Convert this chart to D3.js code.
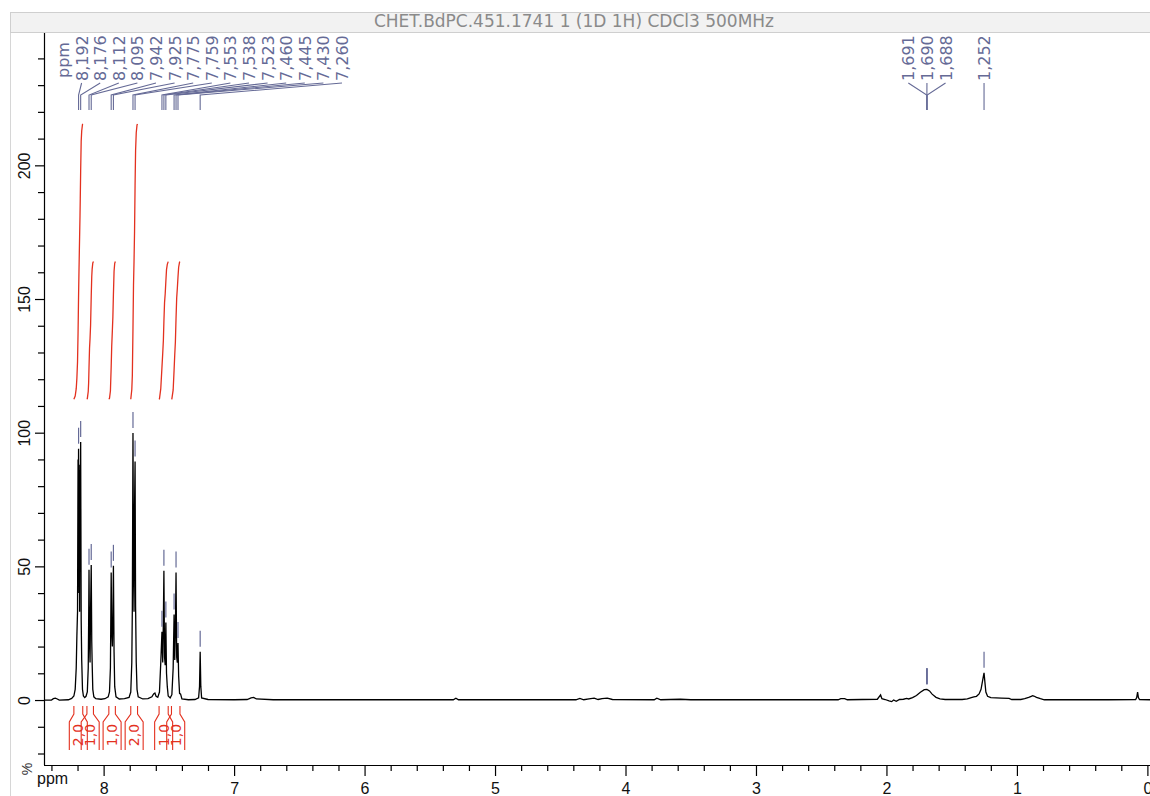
<!DOCTYPE html>
<html>
<head>
<meta charset="utf-8">
<script src="https://cdn.jsdelivr.net/npm/d3@7"></script>
<style>
  html, body { margin: 0; padding: 0; background: #fff; overflow: hidden; }
  svg { display: block; }
</style>
</head>
<body>
<svg id="chart" width="1150" height="796"></svg>
<script>
// ---- Data ----------------------------------------------------------------
const titleText = "CHET.BdPC.451.1741 1 (1D 1H) CDCl3 500MHz";

// 1H spectrum trace: chemical shift (ppm) and intensity (%)
const spectrumPpm = [
  8.46, 8.40, 8.385, 8.37, 8.355, 8.34, 8.27, 8.245, 8.228, 8.218, 8.210, 8.205, 8.200,
  8.196, 8.194, 8.192, 8.189, 8.186, 8.184, 8.181, 8.179, 8.176, 8.172, 8.168, 8.162,
  8.155, 8.145, 8.135, 8.125, 8.118, 8.115, 8.112, 8.108, 8.104, 8.100, 8.095, 8.091,
  8.088, 8.083, 8.075, 8.06, 8.02, 7.99, 7.965, 7.955, 7.948, 7.942, 7.938, 7.933,
  7.929, 7.925, 7.920, 7.915, 7.905, 7.88, 7.84, 7.805, 7.792, 7.784, 7.780, 7.775,
  7.771, 7.767, 7.763, 7.759, 7.755, 7.750, 7.744, 7.735, 7.70, 7.66, 7.63, 7.617,
  7.607, 7.598, 7.585, 7.572, 7.562, 7.553, 7.547, 7.542, 7.538, 7.533, 7.528, 7.523,
  7.518, 7.512, 7.505, 7.49, 7.477, 7.467, 7.460, 7.455, 7.450, 7.445, 7.440, 7.435,
  7.430, 7.425, 7.418, 7.410, 7.400, 7.35, 7.30, 7.272, 7.265, 7.260, 7.255, 7.249,
  7.20, 7.00, 6.90, 6.87, 6.85, 6.83, 6.70, 5.32, 5.30, 5.28, 4.38, 4.35, 4.32, 4.28,
  4.24, 4.21, 4.18, 4.14, 4.10, 3.78, 3.76, 3.73, 3.58, 3.50, 2.37, 2.35, 2.32, 2.30,
  2.07, 2.045, 2.035, 2.01, 1.98, 1.96, 1.945, 1.925, 1.90, 1.87, 1.845, 1.83, 1.80,
  1.77, 1.74, 1.71, 1.69, 1.67, 1.65, 1.62, 1.59, 1.55, 1.42, 1.38, 1.35, 1.33, 1.31,
  1.29, 1.275, 1.262, 1.252, 1.246, 1.238, 1.225, 1.20, 1.12, 1.06, 1.04, 0.97, 0.94,
  0.91, 0.89, 0.88, 0.87, 0.85, 0.82, 0.79, 0.30, 0.09, 0.082, 0.075, 0.069, 0.06, -0.03
];
const spectrumIntensity = [
  0, 0, 0.5, 0.7, 0.4, 0, 0.1, 0.6, 1.5, 4, 12, 24, 33,
  90, 72, 94, 40, 86, 33, 88, 62, 96.5, 30, 15, 4,
  1.5, 0.9, 1.4, 3, 12, 28, 48.7, 22, 14, 34, 50.5, 22,
  14, 4, 1.2, 0.5, 0.3, 0.5, 1.2, 3, 12, 47.7, 26, 20,
  30, 50.2, 18, 5, 1.2, 0.4, 0.5, 1.0, 3, 14, 34, 99.9,
  50, 33, 72, 89.2, 35, 14, 4, 1.2, 0.4, 0.5, 1.2, 2.3,
  2.6, 1.4, 1.0, 3, 14, 25.5, 14, 30, 48.4, 16, 13, 29,
  10, 5, 1.5, 0.8, 2, 12, 32, 15, 26, 47.7, 16, 14,
  21.3, 9, 2.5, 2.2, 0.4, 0.1, 0.2, 0.8, 5, 18.1, 5, 0.8,
  0.2, 0.1, 0.2, 0.8, 1.0, 0.4, 0.1, 0.1, 0.7, 0.1, 0.1, 0.6, 0.1, 0.4,
  0.7, 0.2, 0.5, 0.7, 0.2, 0.1, 0.7, 0.1, 0.3, 0.1, 0.1, 0.5, 0.5, 0.1,
  0.3, 1.9, 0.5, 0.2, -0.3, -0.6, 0, -0.5, 0.2, 0.3, 0.6, 0.4, 0.9,
  1.7, 2.9, 3.9, 4.0, 3.4, 2.2, 1.0, 0.4, 0.2, 0.2, 0.4, 0.9, 1.2, 1.4,
  2.3, 4, 7.5, 10.2, 7, 3, 1.4, 0.9, 0.7, 0.6, 0.2, 0.2, 0.5,
  1.0, 1.4, 1.6, 1.5, 1.0, 0.5, 0.1, 0.1, 0.2, 0.9, 3.0, 0.9, 0.2, 0.1
];

// Peak picking
const peakPpm = [8.192, 8.176, 8.112, 8.095, 7.942, 7.925, 7.775, 7.759, 7.553, 7.538,
                 7.523, 7.460, 7.445, 7.430, 7.260, 1.691, 1.690, 1.688, 1.252];
const peakHeight = [94, 96.5, 48.7, 50.5, 47.7, 50.2, 99.9, 89.2, 25.5, 48.4,
                    29, 32, 47.7, 21.3, 18.1, 4.0, 4.0, 4.0, 10.2];
const peakLabels = ["8,192", "8,176", "8,112", "8,095", "7,942", "7,925", "7,775", "7,759",
                    "7,553", "7,538", "7,523", "7,460", "7,445", "7,430", "7,260",
                    "1,691", "1,690", "1,688", "1,252"];

// Integrals: region limits (ppm) and normalised values (H)
const integralFrom = [8.228, 8.128, 7.960, 7.792, 7.575, 7.480];
const integralTo   = [8.160, 8.078, 7.910, 7.740, 7.505, 7.415];
const integralValue = [2.0, 1.0, 1.0, 2.0, 1.0, 1.0];

// Axis ticks
const xMajorTicks = [0, 1, 2, 3, 4, 5, 6, 7, 8];
const xMinorTicks = d3.range(42, 0, -1).map(v => v / 5).filter(v => v % 1 !== 0);
const yMajorTicks = [0, 50, 100, 150, 200];
const yMinorTicks = d3.range(-20, 250, 10);

// ---- Layout --------------------------------------------------------------
const W = 1150, H = 796;
const plot = { left: 44, right: 1150, top: 33, bottom: 765 };
const svg = d3.select("#chart");

const x = d3.scaleLinear().domain([8.457, -0.02]).range([plot.left, plot.right]);
const y = d3.scaleLinear().domain([-24.3, 249.5]).range([plot.bottom, plot.top]);

const labelColor = "#656a96";
const integralColor = "#e3311f";
const axisFont = "'Liberation Sans', Arial, sans-serif";
const labelFont = "'DejaVu Sans', Verdana, sans-serif";

// Window frame and title bar
svg.append("line").attr("x1", 10.5).attr("x2", 10.5).attr("y1", 12).attr("y2", H)
  .attr("stroke", "#d6d6d6");
svg.append("rect").attr("x", 10.5).attr("y", 12.5).attr("width", W).attr("height", 20)
  .attr("fill", "#f2f2f2").attr("stroke", "#cfcfcf");
svg.append("text").attr("x", 574).attr("y", 27)
  .attr("text-anchor", "middle").attr("font-family", labelFont).attr("font-size", 17)
  .attr("fill", "#8a8a8a").text(titleText);

// Clip region for the data
svg.append("clipPath").attr("id", "plotClip").append("rect")
  .attr("x", plot.left).attr("y", 0).attr("width", plot.right - plot.left).attr("height", H);

// ---- Axes ----------------------------------------------------------------
const xAxis = svg.append("g").attr("transform", `translate(0,${plot.bottom})`)
  .call(d3.axisBottom(x).tickValues(xMajorTicks).tickSize(11).tickPadding(7)
    .tickFormat(d3.format("d")));
svg.append("g").attr("transform", `translate(0,${plot.bottom})`)
  .call(d3.axisBottom(x).tickValues(xMinorTicks).tickSize(6).tickFormat(""))
  .call(g => g.select(".domain").remove());
xAxis.select(".domain").attr("d", `M${plot.left},0.5H${plot.right}`);

const yAxis = svg.append("g").attr("transform", `translate(${plot.left},0)`)
  .call(d3.axisLeft(y).tickValues(yMajorTicks).tickSize(9).tickFormat(d3.format("d")));
svg.append("g").attr("transform", `translate(${plot.left},0)`)
  .call(d3.axisLeft(y).tickValues(yMinorTicks.filter(v => !yMajorTicks.includes(v)))
    .tickSize(6).tickFormat(""))
  .call(g => g.select(".domain").remove());
yAxis.select(".domain").attr("d", `M0.5,${plot.top}V${plot.bottom}`);
yAxis.selectAll(".tick text")
  .attr("x", null).attr("dy", null)
  .attr("text-anchor", "middle")
  .attr("transform", "translate(-14,0) rotate(-90)");

svg.selectAll(".tick line, .domain").attr("stroke", "#000").attr("stroke-width", 1.2);
svg.selectAll(".tick text").attr("font-family", axisFont).attr("font-size", 16).attr("fill", "#111");

// Axis unit labels
svg.append("text").attr("x", 37).attr("y", 784)
  .attr("font-family", axisFont).attr("font-size", 16).attr("fill", "#111").text("ppm");
svg.append("text").attr("transform", "translate(32,769) rotate(-90)")
  .attr("text-anchor", "middle").attr("font-family", axisFont).attr("font-size", 14)
  .attr("fill", "#333").text("%");

// ---- Spectrum --------------------------------------------------------------
const spectrum = spectrumPpm.map((p, i) => ({ ppm: p, v: spectrumIntensity[i] }));
const line = d3.line().x(d => x(d.ppm)).y(d => y(d.v));
svg.append("path").datum(spectrum)
  .attr("clip-path", "url(#plotClip)")
  .attr("fill", "none").attr("stroke", "#000").attr("stroke-width", 1.3)
  .attr("stroke-linejoin", "miter").attr("d", line);

// ---- Integrals -------------------------------------------------------------
const integralBase = 112.5;   // level where each integral curve starts (%)
const integralPerH = 51.5;    // curve rise per proton (%)

integralFrom.forEach((a, k) => {
  const b = integralTo[k];
  const pts = spectrum.filter(d => d.ppm <= a && d.ppm >= b);
  const seq = [{ ppm: a, v: 0 }, ...pts, { ppm: b, v: 0 }];
  let acc = 0;
  const cum = [{ ppm: a, c: 0 }];
  for (let i = 1; i < seq.length; i++) {
    acc += (seq[i - 1].ppm - seq[i].ppm) * (seq[i - 1].v + seq[i].v) / 2;
    cum.push({ ppm: seq[i].ppm, c: acc });
  }
  const total = integralValue[k] * integralPerH;
  const curve = cum.map(d => ({ ppm: d.ppm, v: integralBase + d.c / acc * total }));
  svg.append("path").datum(curve)
    .attr("fill", "none").attr("stroke", integralColor).attr("stroke-width", 1.3)
    .attr("d", line);

  // bracket and value label under the baseline
  const xs = x(a), xe = x(b), xc = (xs + xe) / 2, w = 9;
  svg.append("path")
    .attr("d", `M${xs},706V714L${xc - w},722V750M${xe},706V714L${xc + w},722V750`)
    .attr("fill", "none").attr("stroke", integralColor).attr("stroke-width", 1.1);
  svg.append("text")
    .attr("transform", `translate(${xc + 5},735) rotate(-90)`)
    .attr("text-anchor", "middle")
    .attr("font-family", labelFont).attr("font-size", 14)
    .attr("fill", integralColor)
    .text(integralValue[k].toFixed(1).replace(".", ","));
});

// ---- Peak labels -----------------------------------------------------------
const gap = 18.6;
const headerX = plot.left + 19;
const peakX = peakPpm.map(p => x(p));

// spread labels into non-overlapping clusters centred on their peaks
let clusters = peakX.map((px, i) => ({ idx: [i] }));
function placeClusters() {
  clusters.forEach(c => {
    const mean = d3.mean(c.idx, i => peakX[i]);
    c.start = Math.max(headerX + gap, mean - (c.idx.length - 1) * gap / 2);
  });
}
let merged = true;
while (merged) {
  merged = false;
  placeClusters();
  for (let k = 0; k < clusters.length - 1; k++) {
    const a = clusters[k], b = clusters[k + 1];
    if (a.start + a.idx.length * gap > b.start) {
      clusters.splice(k, 2, { idx: a.idx.concat(b.idx) });
      merged = true;
      break;
    }
  }
}
placeClusters();
const labelX = [];
clusters.forEach(c => c.idx.forEach((i, j) => { labelX[i] = c.start + j * gap; }));

const labelBottom = 81;
const peakG = svg.append("g");
peakG.append("text")
  .attr("transform", `translate(${headerX + 5.5},60) rotate(-90)`)
  .attr("text-anchor", "middle").attr("font-family", labelFont).attr("font-size", 16)
  .attr("fill", labelColor).text("ppm");

peakLabels.forEach((t, i) => {
  peakG.append("text")
    .attr("transform", `translate(${labelX[i] + 6},${labelBottom}) rotate(-90)`)
    .attr("font-family", labelFont).attr("font-size", 16)
    .attr("fill", labelColor).text(t);
  peakG.append("path")
    .attr("d", `M${labelX[i]},${labelBottom + 2}L${peakX[i]},95V110`)
    .attr("fill", "none").attr("stroke", labelColor).attr("stroke-width", 1.1);
  // small marker above the peak top
  const yt = y(peakHeight[i]);
  peakG.append("line")
    .attr("x1", peakX[i]).attr("x2", peakX[i])
    .attr("y1", yt - 21).attr("y2", yt - 5)
    .attr("stroke", labelColor).attr("stroke-width", 1.2);
});
</script>
</body>
</html>
